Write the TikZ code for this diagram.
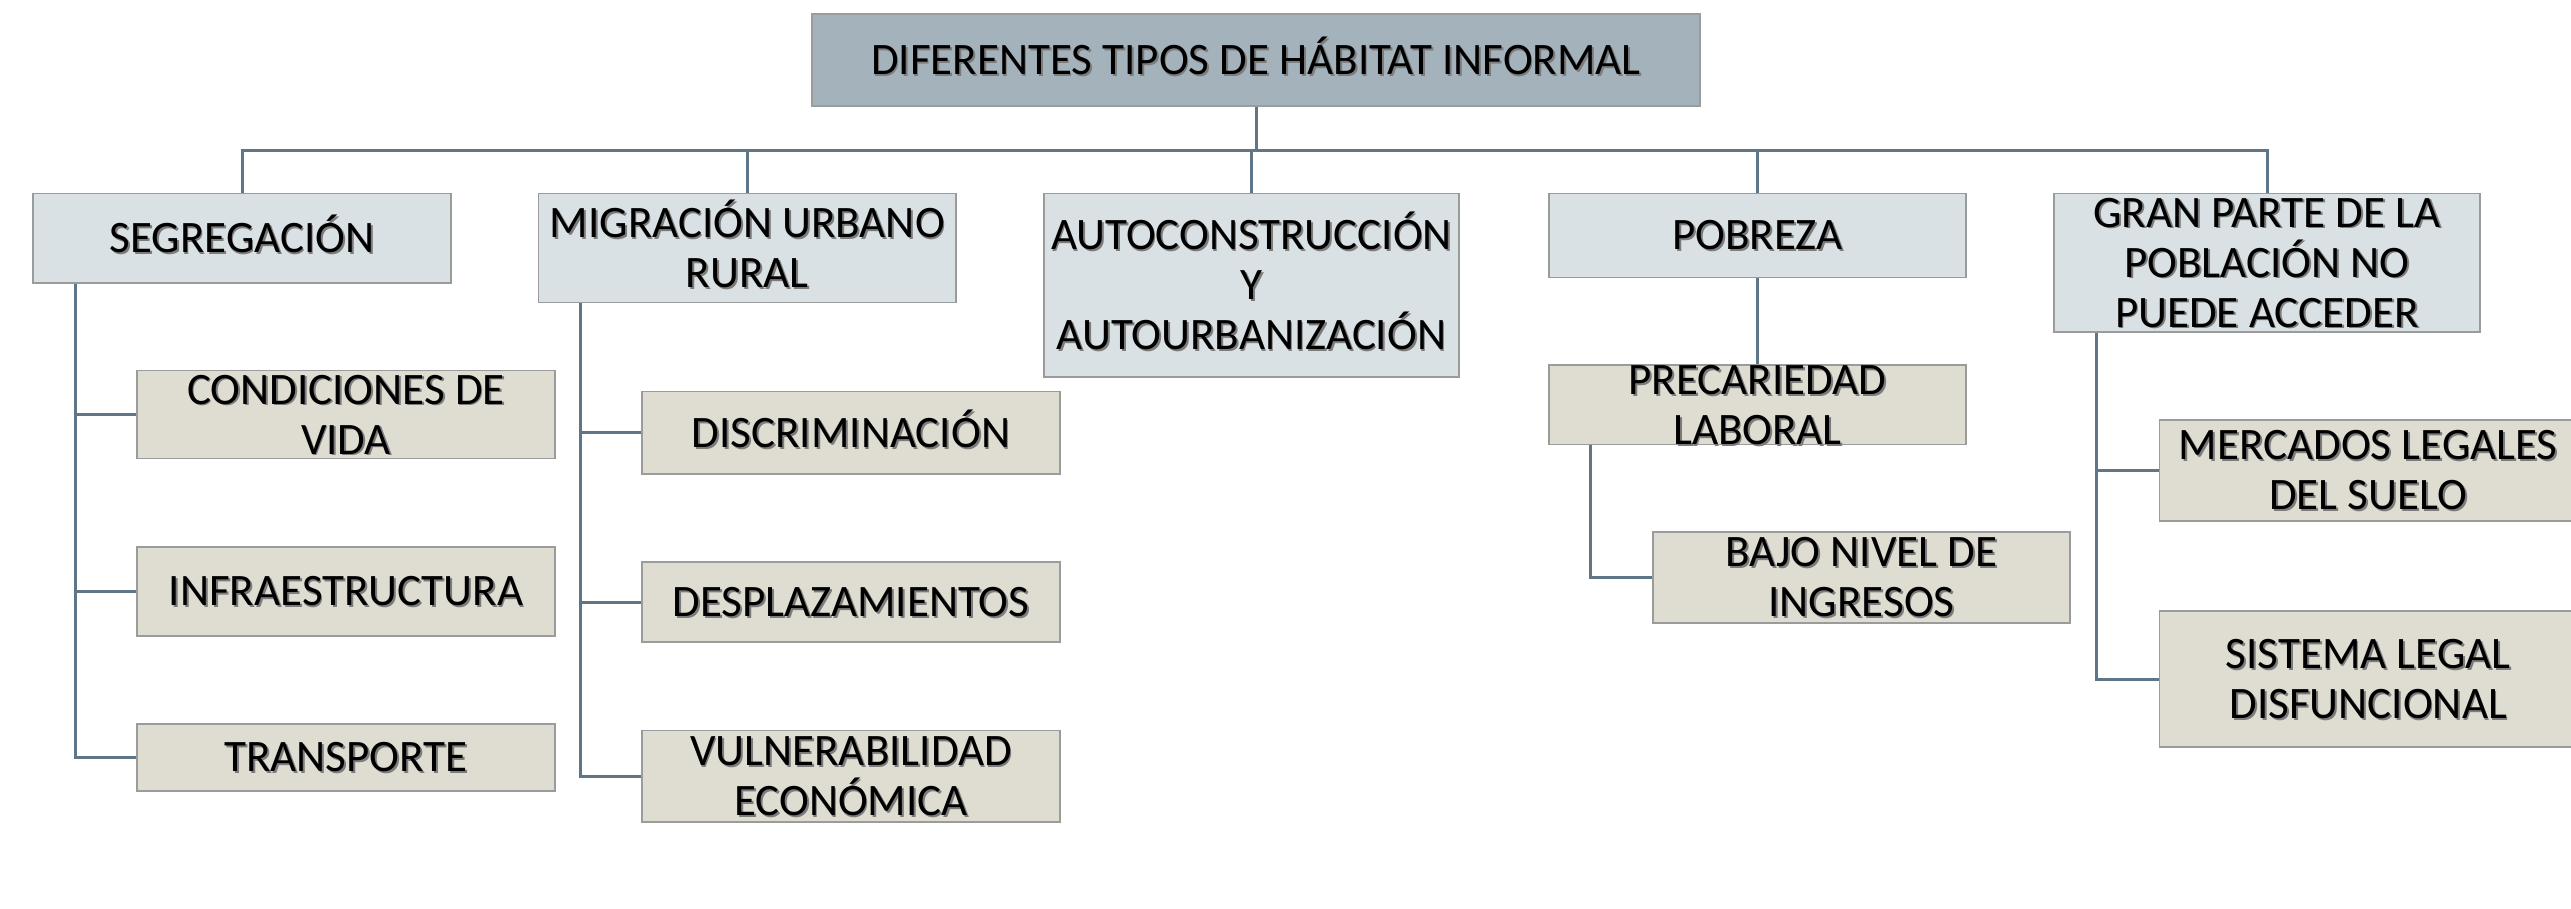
\documentclass[tikz,border=0pt]{standalone}
\usepackage{fontspec}
\setmainfont{Carlito}
\definecolor{titlefill}{HTML}{A3B2BB}
\definecolor{lonefill}{HTML}{D9E1E4}
\definecolor{ltwofill}{HTML}{DFDDD1}
\definecolor{boxline}{HTML}{9A9C9C}
\definecolor{connline}{HTML}{5E7687}
\definecolor{shadowgray}{HTML}{7C7C7C}
\newcommand\shd[1]{\leavevmode\rlap{\smash{\kern1.8pt\raisebox{-1.8pt}{\textcolor{shadowgray}{#1}}}}#1}
\tikzset{
  bx/.style n args={2}{draw=boxline, line width=1.6pt, minimum width=#1pt, minimum height=#2pt,
    inner sep=0pt, align=center, font=\fontsize{45}{50}\selectfont, text=black},
  titlebox/.style={fill=titlefill},
  lone/.style={fill=lonefill},
  ltwo/.style={fill=ltwofill},
  conn/.style={draw=connline, line width=3pt}
}
\begin{document}
\begin{tikzpicture}[x=1pt,y=-1pt]
\useasboundingbox (0,0) rectangle (2571,908);
% top
\node[bx={888}{92}, titlebox] (title) at (1256,60) {\shd{DIFERENTES TIPOS DE H\smash{Á}BITAT INFORMAL}};
% level 1
\node[bx={418}{89.5}, lone] (seg) at (242,238.25) {\shd{SEGREGACI\smash{Ó}N}};
\node[bx={417.5}{109}, lone] (mig) at (747.25,248) {\shd{MIGRACI\smash{Ó}N URBANO}\\\shd{RURAL}};
\node[bx={415}{183.5}, lone] (auto) at (1251.5,285.25) {\shd{AUTOCONSTRUCCI\smash{Ó}N}\\\shd{Y}\\\shd{AUTOURBANIZACIÓN}};
\node[bx={417}{84}, lone] (pob) at (1757.5,235.5) {\shd{POBREZA}};
\node[bx={426}{138.5}, lone] (gran) at (2267,262.75) {\shd{GRAN PARTE DE LA}\\\shd{POBLACIÓN NO}\\\shd{PUEDE ACCEDER}};
% level 2
\node[bx={418}{88}, ltwo] (cond) at (346,414.5) {\shd{CONDICIONES DE}\\\shd{VIDA}};
\node[bx={418}{89}, ltwo] (infra) at (346,591.5) {\shd{INFRAESTRUCTURA}};
\node[bx={418}{67}, ltwo] (trans) at (346,757.5) {\shd{TRANSPORTE}};
\node[bx={418}{82.5}, ltwo] (disc) at (851,432.75) {\shd{DISCRIMINACI\smash{Ó}N}};
\node[bx={418}{80}, ltwo] (desp) at (851,602) {\shd{DESPLAZAMIENTOS}};
\node[bx={418}{91.5}, ltwo] (vuln) at (851,776.25) {\shd{VULNERABILIDAD}\\\shd{ECONÓMICA}};
\node[bx={417}{78.5}, ltwo] (prec) at (1757.5,404.75) {\shd{PRECARIEDAD}\\\shd{LABORAL}};
\node[bx={417}{91}, ltwo] (bajo) at (1861.5,577.5) {\shd{BAJO NIVEL DE}\\\shd{INGRESOS}};
\node[bx={417.5}{101}, ltwo] (merc) at (2368.25,470.5) {\shd{MERCADOS LEGALES}\\\shd{DEL SUELO}};
\node[bx={417.5}{136}, ltwo] (sist) at (2368.25,679) {\shd{SISTEMA LEGAL}\\\shd{DISFUNCIONAL}};
% coordinates
\coordinate (bar) at (1256,150);
\coordinate (segx) at (75,0);
\coordinate (migx) at (580,0);
\coordinate (precx) at (1590,0);
\coordinate (granx) at (2096,0);
% connectors
\draw[conn] (title.south) -- (title.south |- bar);
\draw[conn] (seg.north) -- (seg.north |- bar) -- (gran.north |- bar) -- (gran.north);
\draw[conn] (mig.north) -- (mig.north |- bar);
\draw[conn] (auto.north) -- (auto.north |- bar);
\draw[conn] (pob.north) -- (pob.north |- bar);
\draw[conn] (segx |- seg.south) |- (trans.west);
\draw[conn] (segx |- cond.west) -- (cond.west);
\draw[conn] (segx |- infra.west) -- (infra.west);
\draw[conn] (migx |- mig.south) |- (vuln.west);
\draw[conn] (migx |- disc.west) -- (disc.west);
\draw[conn] (migx |- desp.west) -- (desp.west);
\draw[conn] (pob.south) -- (prec.north);
\draw[conn] (precx |- prec.south) |- (bajo.west);
\draw[conn] (granx |- gran.south) |- (sist.west);
\draw[conn] (granx |- merc.west) -- (merc.west);
\end{tikzpicture}
\end{document}
